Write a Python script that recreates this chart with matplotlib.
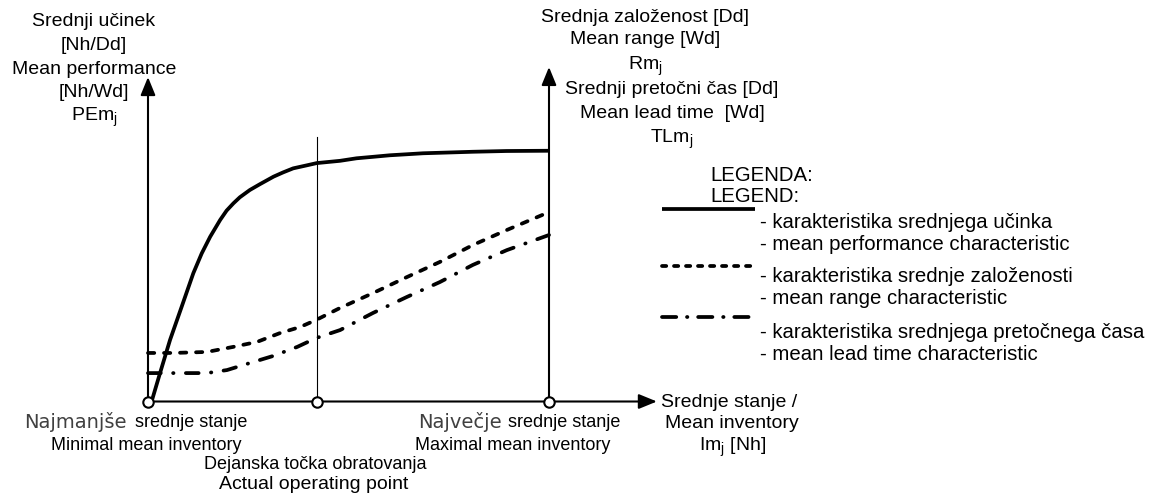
import matplotlib
matplotlib.use("Agg")
import matplotlib.pyplot as plt
from matplotlib import font_manager
from matplotlib.lines import Line2D
from matplotlib.patches import FancyArrowPatch

# ---------------- data (relative units) ----------------
inv_perf = [0.009, 0.030, 0.055, 0.084, 0.113, 0.134, 0.155, 0.180, 0.196, 0.213,
            0.229, 0.254, 0.279, 0.313, 0.337, 0.362, 0.396, 0.421, 0.479, 0.520,
            0.562, 0.603, 0.645, 0.686, 0.728, 0.810, 0.894, 1.000]
perf = [0.000, 0.113, 0.245, 0.377, 0.510, 0.589, 0.655, 0.722, 0.759, 0.788,
        0.812, 0.841, 0.864, 0.894, 0.911, 0.927, 0.939, 0.948, 0.957, 0.967,
        0.973, 0.979, 0.983, 0.987, 0.989, 0.993, 0.996, 0.997]

inv_range = [0.000, 0.062, 0.147, 0.212, 0.272, 0.329, 0.379, 0.419, 0.479, 0.561,
             0.646, 0.728, 0.810, 0.895, 1.000]
mean_range = [0.193, 0.193, 0.197, 0.217, 0.237, 0.272, 0.296, 0.324, 0.372, 0.431,
              0.495, 0.555, 0.622, 0.682, 0.753]

inv_lead = [0.000, 0.062, 0.147, 0.197, 0.254, 0.312, 0.372, 0.419, 0.479, 0.561,
            0.646, 0.728, 0.810, 0.895, 1.000]
lead_time = [0.113, 0.113, 0.113, 0.125, 0.153, 0.181, 0.217, 0.252, 0.284, 0.352,
             0.416, 0.475, 0.543, 0.602, 0.662]

op_points = [0.0, 0.421, 1.0]          # minimal, actual, maximal mean inventory
x_axis_end = 1.269
left_axis_top = 1.290
right_axis_top = 1.330
op_line_top = 1.052

legend_labels = [
    ("- karakteristika srednjega učinka", "- mean performance characteristic"),
    ("- karakteristika srednje založenosti", "- mean range characteristic"),
    ("- karakteristika srednjega pretočnega časa", "- mean lead time characteristic"),
]

# ---------------- fonts ----------------
names = {f.name for f in font_manager.fontManager.ttflist}
MAIN = "Liberation Sans" if "Liberation Sans" in names else "DejaVu Sans"
if "Liberation Sans Narrow" in names:
    NARROW, NARROW_SIZE = "Liberation Sans Narrow", 15
else:
    NARROW, NARROW_SIZE = MAIN, 13
plt.rcParams["font.family"] = [MAIN, "DejaVu Sans"]
plt.rcParams["mathtext.fontset"] = "custom"
plt.rcParams["mathtext.rm"] = MAIN
plt.rcParams["mathtext.it"] = MAIN + ":italic"

W, H = 1154, 494
fig = plt.figure(figsize=(W / 100, H / 100), dpi=100)
ax = fig.add_axes([148 / W, (H - 401.5) / H, 401 / W, 251.5 / H])
ax.set_xlim(0, 1)
ax.set_ylim(0, 1)
ax.axis("off")

LW = 2.7
SOLID = "-"
DASHED = (0, (1.67, 2.6))
DASHDOT = (0, (3.4, 3.3, 0.1, 3.3))
LEG_DASHED = (0, (1.13, 2.07))
LEG_DASHDOT = (0, (3.8, 2.87, 0.1, 2.87))

# axes with arrows
def arrow(p0, p1, lw=1.5):
    a = FancyArrowPatch(p0, p1, arrowstyle="-|>,head_length=11,head_width=4.5",
                        mutation_scale=1, lw=lw, color="black", clip_on=False,
                        shrinkA=0, shrinkB=0)
    ax.add_patch(a)

arrow((0, 0), (0, left_axis_top))
arrow((1, 0), (1, right_axis_top))
arrow((0, 0), (x_axis_end, 0))
ax.plot([op_points[1], op_points[1]], [0, op_line_top], color="black", lw=0.8,
        clip_on=False)

# curves
ax.plot(inv_perf, perf, color="black", lw=LW, linestyle=SOLID, clip_on=False,
        solid_capstyle="butt", solid_joinstyle="round", zorder=3)
ax.plot(inv_range, mean_range, color="black", lw=LW, linestyle=DASHED,
        dash_capstyle="round", dash_joinstyle="round", clip_on=False, zorder=3)
ax.plot(inv_lead, lead_time, color="black", lw=LW, linestyle=DASHDOT,
        dash_capstyle="round", dash_joinstyle="round", clip_on=False, zorder=3)

# operating points
ax.plot(op_points, [0] * len(op_points), linestyle="none", marker="o", ms=7.5,
        mfc="white", mec="black", mew=1.5, clip_on=False, zorder=5)

# ---------------- text helpers (pixel positions) ----------------
def T(x, y, s, ha="center", size=14, family=None, color="black"):
    kw = {}
    if family is not None:
        kw["family"] = family
    fig.text(x / W, 1 - y / H, s, ha=ha, va="center_baseline", fontsize=size,
             color=color, **kw)

# left axis title
for y, s in zip([20, 43, 67, 90, 113],
                ["Srednji učinek", "[Nh/Dd]", "Mean performance", "[Nh/Wd]",
                 r"PEm$_\mathregular{j}$"]):
    T(94, y, s)

# right axis title
for y, s in zip([15, 37, 62], ["Srednja založenost [Dd]", "Mean range [Wd]",
                               r"Rm$_\mathregular{j}$"]):
    T(645, y, s)
for y, s in zip([88, 112, 135], ["Srednji pretočni čas [Dd]", "Mean lead time  [Wd]",
                                 r"TLm$_\mathregular{j}$"]):
    T(672, y, s)

# legend
LEG_SIZE = 14.7
T(710, 173, "LEGENDA:", ha="left", size=LEG_SIZE)
T(710, 195, "LEGEND:", ha="left", size=LEG_SIZE)
legend_styles = [SOLID, LEG_DASHED, LEG_DASHDOT]
legend_line_y = [209, 266, 317]
legend_text_y = [(220, 242), (275, 297), (330, 352)]
for st, ly, (t1, t2), (l1, l2) in zip(legend_styles, legend_line_y, legend_text_y,
                                      legend_labels):
    fig.add_artist(Line2D([662 / W, 755 / W], [1 - ly / H, 1 - ly / H], color="black",
                          lw=LW, linestyle=st, dash_capstyle="round",
                          solid_capstyle="butt"))
    T(760, t1, l1, ha="left", size=LEG_SIZE)
    T(760, t2, l2, ha="left", size=LEG_SIZE)

# x axis title
T(729, 400, "Srednje stanje /")
T(732, 422, "Mean inventory")
T(733, 443, r"Im$_\mathregular{j}$ [Nh]")

# bottom labels
T(127, 420, "Najmanjše", ha="right", family="DejaVu Sans", color="#404040")
T(135, 420, "srednje stanje", ha="left", family=NARROW, size=NARROW_SIZE)
T(146, 443, "Minimal mean inventory", family=NARROW, size=NARROW_SIZE)
T(315, 462, "Dejanska točka obratovanja", family=NARROW, size=NARROW_SIZE)
T(314, 482, "Actual operating point")
T(418, 420, "Največje", ha="left", family="DejaVu Sans", color="#404040")
T(508, 420, "srednje stanje", ha="left", family=NARROW, size=NARROW_SIZE)
T(513, 443, "Maximal mean inventory", family=NARROW, size=NARROW_SIZE)

fig.savefig("out.png", dpi=100)
